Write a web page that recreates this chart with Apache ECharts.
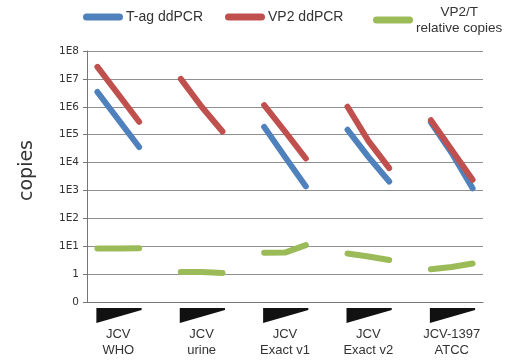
<!DOCTYPE html>
<html><head><meta charset="utf-8">
<script src="https://cdn.jsdelivr.net/npm/echarts@6/dist/echarts.min.js"></script>
<style>html,body{margin:0;padding:0;background:#fff}#c{width:510px;height:361px}</style>
</head><body><div id="c"></div>
<script>
// 19 categories: 5 groups x 3 dilutions, separated by an empty slot
const groupNames = ['JCV\nWHO', 'JCV\nurine', 'JCV\nExact v1', 'JCV\nExact v2', 'JCV-1397\nATCC'];
const categories = ['WHO-1','WHO-2','WHO-3','',
  'urine-1','urine-2','urine-3','',
  'v1-1','v1-2','v1-3','',
  'v2-1','v2-2','v2-3','',
  'ATCC-1','ATCC-2','ATCC-3'];
// copies (raw values)
const tagCopies = [3.4e6, 3.5e5, 3.6e4, null,
  null, null, null, null,
  1.9e5, 1.6e4, 1.4e3, null,
  1.5e5, 1.6e4, 2.1e3, null,
  2.8e5, 2.2e4, 1.2e3];
const vp2Copies = [2.7e7, 2.8e6, 2.9e5, null,
  1.0e7, 1.0e6, 1.3e5, null,
  1.15e6, 1.3e5, 1.4e4, null,
  1.0e6, 6.0e4, 6.3e3, null,
  3.3e5, 2.8e4, 2.4e3];
const ratioCopies = [8.3, 8.3, 8.5, null,
  1.2, 1.2, 1.1, null,
  5.8, 5.9, 11, null,
  5.5, 4.3, 3.2, null,
  1.5, 1.8, 2.4];
const yTickLabels = ['0','1','1E1','1E2','1E3','1E4','1E5','1E6','1E7','1E8'];
const legendNames = ['T-ag ddPCR', 'VP2 ddPCR', 'VP2/T relative copies'];
const wedgeRanges = [[0,2],[4,6],[8,10],[12,14],[16,18]];

function toPos(v){ return v == null ? null : (v <= 0 ? 0 : Math.log10(v) + 1); }

const chart = echarts.init(document.getElementById('c'));
const lineCommon = {type:'line', showSymbol:false, symbol:'none', connectNulls:false};
const FONT = 'Liberation Sans, Arial, sans-serif';
function legendAt(left, top, name){
  return {
    top:top, left:left, itemWidth:40, itemHeight:7,
    icon:'path://M3.5,0 h33 a3.5,3.5 0 0 1 0,7 h-33 a3.5,3.5 0 0 1 0,-7z',
    textStyle:{fontSize:14, color:'#333', fontFamily:FONT, padding:[0,0,0,-2],
      rich:{c:{align:'center', fontSize:13.5, color:'#333', lineHeight:16, fontFamily:FONT}}},
    formatter:function(n){ return n === legendNames[2] ? '{c|VP2/T}\n{c|relative copies}' : n; },
    data:[name]
  };
}
chart.setOption({
  animation:false,
  textStyle:{fontFamily:FONT},
  legend:[legendAt(78, 5, legendNames[0]), legendAt(220, 5, legendNames[1]), legendAt(368, 0, legendNames[2])],
  grid:{left:87, right:27, top:51, bottom:59},
  xAxis:{
    type:'category', data:categories, boundaryGap:true,
    axisLine:{lineStyle:{color:'#777'}},
    axisTick:{interval:0, length:4, lineStyle:{color:'#777'}},
    axisLabel:{
      interval:function(i){return i % 4 === 1;},
      formatter:function(v, i){return groupNames[Math.floor(i/4)];},
      margin:24, fontSize:13, color:'#333', lineHeight:16
    }
  },
  yAxis:{
    type:'value', min:0, max:9, interval:1,
    name:'copies', nameLocation:'middle', nameGap:50, nameRotate:90,
    nameTextStyle:{fontSize:19, color:'#333', fontFamily:'DejaVu Sans', padding:[0,0,0,12]},
    axisLine:{show:true, lineStyle:{color:'#777'}},
    axisTick:{show:true, length:4, lineStyle:{color:'#777'}},
    axisLabel:{formatter:function(v){return yTickLabels[v];}, fontSize:10.5, color:'#333', margin:8, fontFamily:'DejaVu Sans'},
    splitLine:{lineStyle:{color:'#8f8f8f', width:1}}
  },
  series:[
    Object.assign({}, lineCommon, {name:legendNames[0], data:tagCopies.map(toPos), color:'#4F81BD',
      lineStyle:{width:6, color:'#4F81BD', cap:'round', join:'round'}}),
    Object.assign({}, lineCommon, {name:legendNames[1], data:vp2Copies.map(toPos), color:'#C0504D',
      lineStyle:{width:6, color:'#C0504D', cap:'round', join:'round'}}),
    Object.assign({}, lineCommon, {name:legendNames[2], data:ratioCopies.map(toPos), color:'#9BBB59',
      lineStyle:{width:6, color:'#9BBB59', cap:'round', join:'round'}}),
    {type:'custom', silent:true, clip:false, z:10, legendHoverLink:false,
      data:wedgeRanges,
      encode:{x:[0,1]},
      renderItem:function(params, api){
        const a = api.coord([api.value(0), 0]);
        const b = api.coord([api.value(1), 0]);
        const bw = api.size([1,0])[0];
        const x0 = a[0] - 0.05*bw, x1 = b[0] + 0.12*bw;
        const top = a[1] + 6, bot = a[1] + 21;
        return {type:'polygon', shape:{points:[[x0,top],[x1,top],[x1,top+2],[x0,bot]]}, style:{fill:'#111'}};
      }
    }
  ]
});
</script></body></html>
